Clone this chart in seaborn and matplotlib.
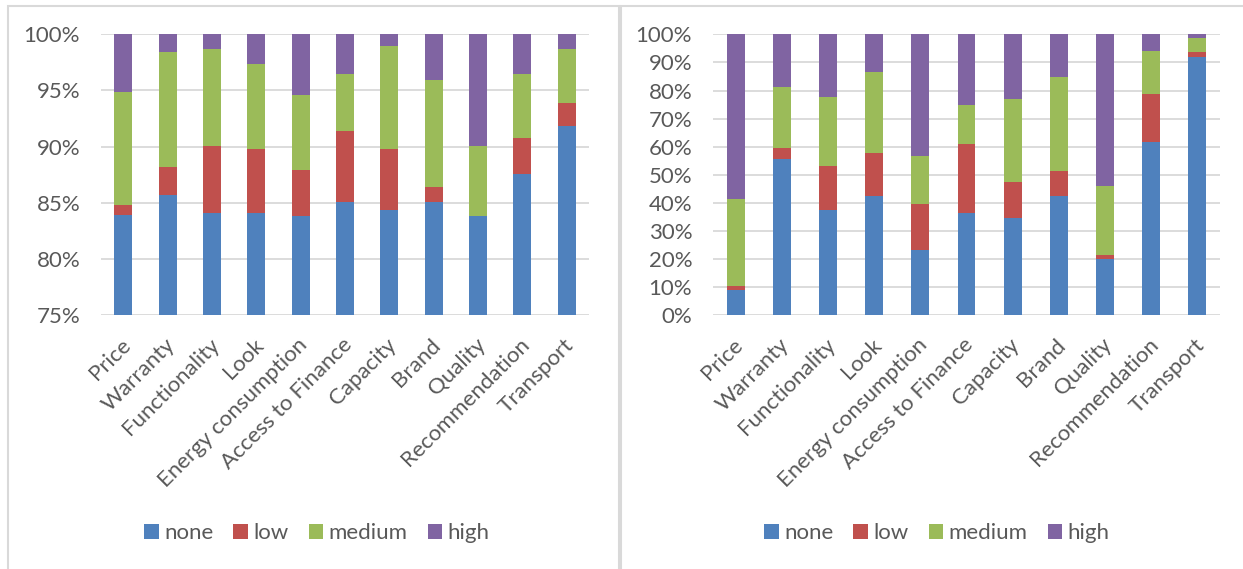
import numpy as np
import matplotlib
matplotlib.use("Agg")
import matplotlib.pyplot as plt
from matplotlib.patches import Patch, Rectangle
from matplotlib.ticker import FuncFormatter, MultipleLocator
from matplotlib.transforms import ScaledTranslation
import seaborn as sns

# Factors rated by importance
categories = ["Price", "Warranty", "Functionality", "Look", "Energy consumption",
              "Access to Finance", "Capacity", "Brand", "Quality",
              "Recommendation", "Transport"]
levels = ["none", "low", "medium", "high"]

# Left chart: share of answers per level (%)
left_none = [83.9, 85.7, 84.1, 84.1, 83.8, 85.1, 84.4, 85.1, 83.8, 87.6, 91.8]
left_low = [0.9, 2.5, 6.0, 5.7, 4.1, 6.3, 5.4, 1.3, 0.0, 3.2, 2.1]
left_medium = [10.1, 10.2, 8.6, 7.6, 6.7, 5.1, 9.2, 9.5, 6.3, 5.7, 4.8]
left_high = [5.1, 1.6, 1.3, 2.6, 5.4, 3.5, 1.0, 4.1, 9.9, 3.5, 1.3]

# Right chart: share of answers per level (%)
right_none = [8.9, 55.5, 37.5, 42.5, 23.1, 36.3, 34.6, 42.4, 20.1, 61.6, 91.8]
right_low = [1.7, 4.2, 15.8, 15.2, 16.6, 24.8, 13.0, 9.1, 1.2, 17.3, 1.9]
right_medium = [30.7, 21.6, 24.3, 29.0, 17.1, 13.6, 29.5, 33.4, 24.7, 15.2, 5.0]
right_high = [58.7, 18.7, 22.4, 13.3, 43.2, 25.3, 22.9, 15.1, 54.0, 5.9, 1.3]

colors = ["#4F81BD", "#C0504D", "#9BBB59", "#8064A2"]
TEXT = "#595959"
GRID = "#D9D9D9"
FS = 16

sns.set_theme(style="white")
plt.rcParams["font.family"] = ["Lato", "DejaVu Sans"]

W, H = 1243, 569
fig = plt.figure(figsize=(W / 100, H / 100), dpi=100)
fig.patch.set_facecolor("white")


def px_axes(x0, x1, y0, y1):
    return fig.add_axes([x0 / W, 1 - y1 / H, (x1 - x0) / W, (y1 - y0) / H])


def stacked(ax, parts, ymin, ystep, width):
    cum = np.cumsum(np.array(parts), axis=0)
    # draw cumulative totals from the top level down so each layer shows its share
    for i in range(len(levels) - 1, -1, -1):
        sns.barplot(x=categories, y=cum[i], color=colors[i], saturation=1,
                    width=width, linewidth=0, ax=ax, zorder=2)
    ax.set_ylim(ymin, 100)
    ax.yaxis.set_major_locator(MultipleLocator(ystep))
    ax.yaxis.set_major_formatter(FuncFormatter(lambda v, p: f"{v:.0f}%"))
    ax.grid(axis="y", color=GRID, linewidth=1.3, zorder=0)
    ax.set_axisbelow(True)
    for s in ax.spines.values():
        s.set_visible(False)
    ax.tick_params(axis="both", length=0, labelsize=FS, labelcolor=TEXT)
    ax.tick_params(axis="y", pad=15)
    ax.tick_params(axis="x", pad=19)
    ax.set_xlabel("")
    ax.set_ylabel("")
    ax.set_xticks(range(len(categories)))
    ax.set_xticklabels(categories, rotation=45, ha="right",
                       rotation_mode="anchor", va="center")
    shift = ScaledTranslation(4 / 100, 0, fig.dpi_scale_trans)
    for lbl in ax.get_xticklabels():
        lbl.set_transform(lbl.get_transform() + shift)


ax1 = px_axes(101, 589, 34.3, 315.3)
stacked(ax1, [left_none, left_low, left_medium, left_high], 75, 5, 0.405)

ax2 = px_axes(713, 1220, 34.3, 315.3)
stacked(ax2, [right_none, right_low, right_medium, right_high], 0, 10, 0.39)

handles = [Patch(facecolor=c, edgecolor="none") for c in colors]
for cx in (317 / W, 937 / W):
    fig.legend(handles, levels, loc="center", bbox_to_anchor=(cx, 1 - 533 / H),
               ncol=4, frameon=False, fontsize=FS, labelcolor=TEXT,
               handlelength=0.65, handleheight=0.65, handletextpad=0.25,
               columnspacing=0.9)

# panel frames
for x0, x1 in ((7.5, 619), (620.5, 1250)):
    fig.patches.append(Rectangle((x0 / W, -0.02), (x1 - x0) / W, 1 - 5.5 / H + 0.02,
                                 transform=fig.transFigure, fill=False,
                                 edgecolor=GRID, linewidth=1.5))

fig.savefig("out.png", dpi=100)
